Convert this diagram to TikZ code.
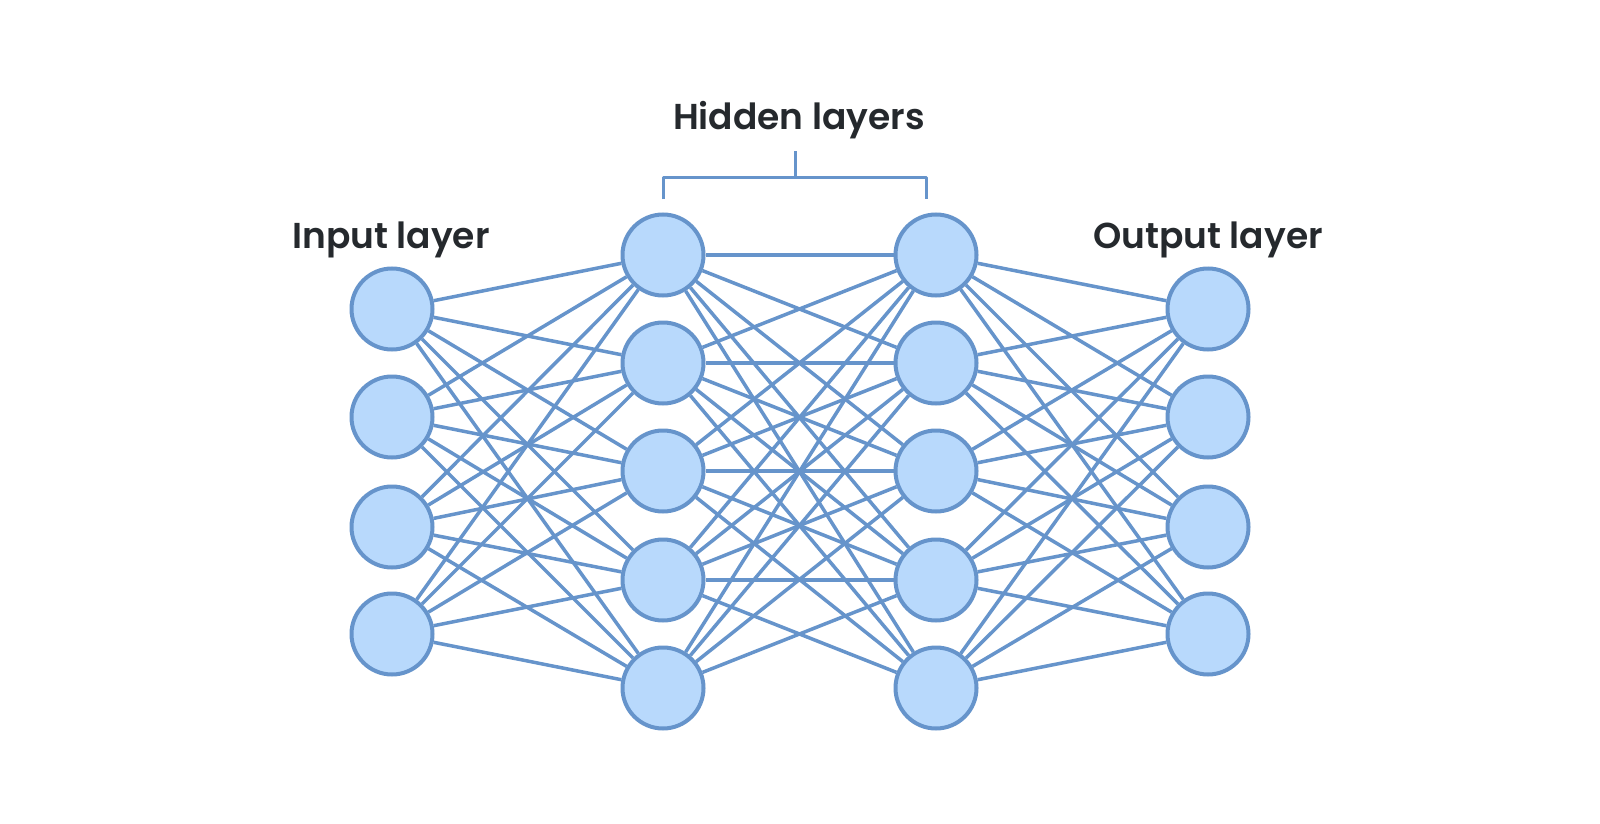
\documentclass[tikz,border=0pt]{standalone}
\usepackage{fontspec}
\setmainfont{Poppins}[BoldFont={Poppins SemiBold}]
\definecolor{edgec}{HTML}{6694CB}
\definecolor{fillc}{HTML}{B8D9FC}
\definecolor{txtc}{HTML}{25292D}
\begin{document}
\begin{tikzpicture}[x=1pt,y=-1pt,
  neuron/.style={circle,draw=edgec,fill=fillc,line width=4pt,minimum size=81pt,inner sep=0pt},
  conn/.style={draw=edgec,line width=3.5pt},
  lbl/.style={text=txtc,font=\fontsize{36}{42}\selectfont\bfseries,inner sep=0pt}]
\useasboundingbox (0,0) rectangle (1600,824);
\fill[white] (0,0) rectangle (1600,824);
% nodes
\foreach \i/\y in {1/309,2/417,3/527,4/634} {
  \node[neuron] (i\i) at (392,\y) {};
  \node[neuron] (o\i) at (1208,\y) {};
}
\foreach \i/\y in {1/255,2/363,3/471,4/580,5/688} {
  \node[neuron] (a\i) at (663,\y) {};
  \node[neuron] (b\i) at (936,\y) {};
}
% connections
\foreach \i in {1,...,4} \foreach \j in {1,...,5} {
  \draw[conn] (i\i) -- (a\j);
  \draw[conn] (b\j) -- (o\i);
}
\foreach \i in {1,...,5} \foreach \j in {1,...,5} {
  \ifnum\i=5 \ifnum\j=5 \else \draw[conn] (a\i) -- (b\j); \fi
  \else \draw[conn] (a\i) -- (b\j); \fi
}
% labels
\node[lbl,anchor=base] (hid) at (799,129) {Hidden layers};
\node[lbl,anchor=base] (inp) at (391,248) {Input layer};
\node[lbl,anchor=base] (out) at (1208,248) {Output layer};
% bracket
\coordinate (bl) at (663,199);
\coordinate (br) at (926,199);
\coordinate (bt) at (795,151);
\draw[conn,line width=3pt,line join=round] (bl) -- (663,177) -- (926,177) -- (br);
\draw[conn,line width=3pt] (bt) -- (795,177);
\end{tikzpicture}
\end{document}
